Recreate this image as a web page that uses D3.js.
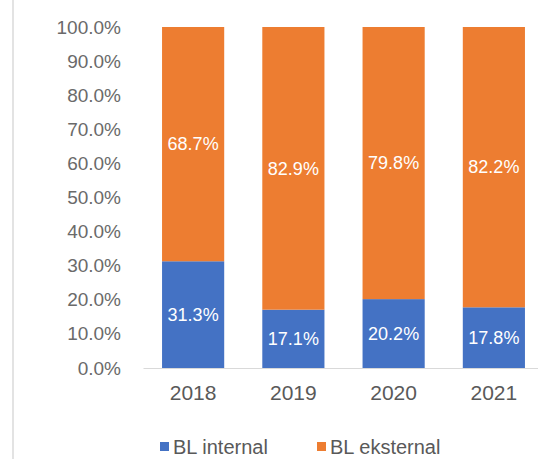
<!DOCTYPE html>
<html>
<head>
<meta charset="utf-8">
<script src="https://cdn.jsdelivr.net/npm/d3@7"></script>
<style>
  html, body { margin: 0; padding: 0; background: #fff; }
  svg { display: block; }
</style>
</head>
<body>
<svg id="chart" width="538" height="459"></svg>
<script>
// Share of BL by source per year (percent)
const years = ["2018", "2019", "2020", "2021"];
const blInternal = [31.3, 17.1, 20.2, 17.8];
const blEksternal = [68.7, 82.9, 79.8, 82.2];
const seriesNames = ["BL internal", "BL eksternal"];
const seriesColors = ["#4472C4", "#ED7D31"];
const yTicks = [0, 10, 20, 30, 40, 50, 60, 70, 80, 90, 100];

const svg = d3.select("#chart");
const font = "'Liberation Sans', Arial, sans-serif";

// frame line on the left edge
svg.append("line")
  .attr("x1", 13).attr("x2", 13).attr("y1", 0).attr("y2", 459)
  .attr("stroke", "#e3e3e3").attr("stroke-width", 2);

const x = d3.scaleBand().domain(years).range([143, 544])
  .paddingInner(0.38).paddingOuter(0.19);
const y = d3.scaleLinear().domain([0, 100]).range([368, 27]);

// y axis labels
const yAxis = d3.axisLeft(y).tickValues(yTicks)
  .tickFormat(d => d.toFixed(1) + "%").tickSize(0).tickPadding(0);
const gy = svg.append("g").attr("transform", "translate(121,0)").call(yAxis);
gy.select(".domain").remove();
gy.selectAll("text").attr("font-family", font).attr("font-size", 19).attr("fill", "#6a6a6a");

// x axis baseline and year labels
const xAxis = d3.axisBottom(x).tickSize(0).tickPadding(17);
const gx = svg.append("g").attr("transform", "translate(0,368)").call(xAxis);
gx.select(".domain").attr("stroke", "#d9d9d9");
gx.selectAll("text").attr("font-family", font).attr("font-size", 21).attr("fill", "#595959");

// stacked bars
const rows = years.map((yr, i) => ({ year: yr, internal: blInternal[i], eksternal: blEksternal[i] }));
const stack = d3.stack().keys(["internal", "eksternal"])(rows);

const layer = svg.selectAll("g.layer").data(stack).enter().append("g")
  .attr("class", "layer").attr("fill", (d, i) => seriesColors[i]);

layer.selectAll("rect").data(d => d).enter().append("rect")
  .attr("x", d => x(d.data.year))
  .attr("width", x.bandwidth())
  .attr("y", d => y(d[1]))
  .attr("height", d => y(d[0]) - y(d[1]));

layer.selectAll("text").data(d => d).enter().append("text")
  .attr("x", d => x(d.data.year) + x.bandwidth() / 2)
  .attr("y", d => y((d[0] + d[1]) / 2))
  .attr("dy", "0.35em")
  .attr("text-anchor", "middle")
  .attr("font-family", font).attr("font-size", 18)
  .attr("fill", "#fff")
  .text(d => (d[1] - d[0]).toFixed(1) + "%");

// legend
const legendX = [160, 317];
const lg = svg.selectAll("g.legend").data(seriesNames).enter().append("g")
  .attr("class", "legend")
  .attr("transform", (d, i) => `translate(${legendX[i]},447)`);
lg.append("rect").attr("x", 0).attr("y", -5).attr("width", 9).attr("height", 9)
  .attr("fill", (d, i) => seriesColors[i]);
lg.append("text").attr("x", 13).attr("dy", "0.35em")
  .attr("font-family", font).attr("font-size", 20).attr("fill", "#595959")
  .text(d => d);
</script>
</body>
</html>
